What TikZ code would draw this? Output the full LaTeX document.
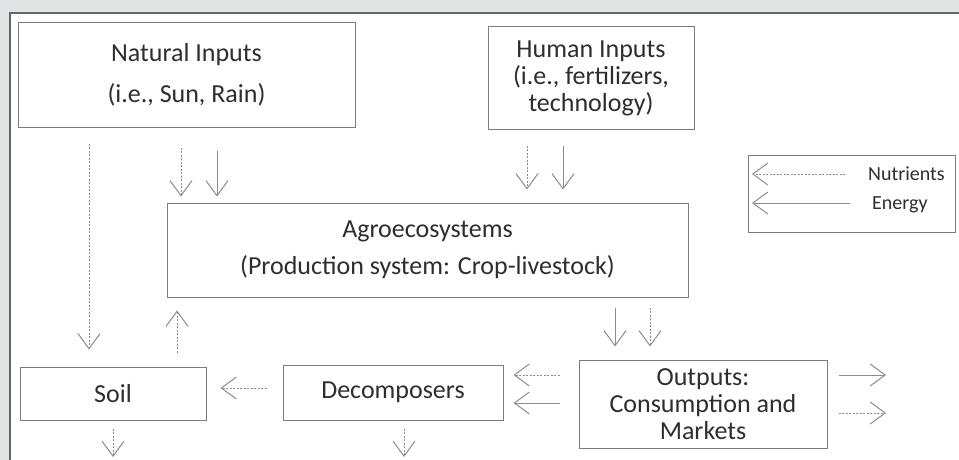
\documentclass[tikz,border=0pt]{standalone}
\usepackage{fontspec}
\setmainfont{Carlito}
\usetikzlibrary{arrows.meta,positioning}
\definecolor{linegray}{HTML}{8C8C8C}
\definecolor{boxgray}{HTML}{7C7C7C}
\definecolor{textgray}{HTML}{2E2E2E}
\definecolor{pagegray}{HTML}{E1E4E5}

\begin{document}
\begin{tikzpicture}[x=1pt,y=-1pt,
    box/.style={draw=boxgray,line width=1pt,align=center,inner sep=0pt,
        text=textgray,font=\fontsize{26}{27}\selectfont},
    keytext/.style={anchor=west,inner sep=0pt,text=textgray,
        font=\fontsize{20}{20}\selectfont},
    flow/.style={-{Straight Barb[length=15pt,width=22pt]},draw=linegray,
        line width=1pt},
    nutrient/.style={flow,dash pattern=on 2pt off 1.5pt},
    energy/.style={flow}
]
\fill[pagegray] (0,0) rectangle (959,460);
\useasboundingbox (0,0) rectangle (959,460);
\fill[white] (10,13) rectangle (959,460);
\draw[black!60,line width=1.5pt] (10,460) -- (10,13) -- (959,13);

\node[box,minimum width=337pt,minimum height=104pt] (nat) at (186.5,75)
    {Natural Inputs\\[14pt](i.e., Sun, Rain)};
\node[box,minimum width=206pt,minimum height=102pt] (human) at (591,78)
    {Human Inputs\\(i.e., fertilizers,\\technology)};
\node[box,minimum width=521pt,minimum height=94pt] (agro) at (427.5,250)
    {Agroecosystems\\[10pt](Production system: Crop-livestock)};
\node[box,minimum width=186pt,minimum height=53pt] (soil) at (113,393.5) {Soil};
\node[box,minimum width=220pt,minimum height=55pt] (decomp) at (393,392.5)
    {Decomposers};
\node[box,minimum width=248pt,minimum height=88pt] (outputs) at (703,404)
    {Outputs:\\Consumption and\\Markets};

\node[draw=boxgray,line width=1pt,minimum width=207pt,minimum height=77pt]
    (legend) at (851.5,193.5) {};
\node[keytext] (nutkey) at (868,174) {Nutrients};
\node[keytext] (energykey) at (872,205) {Energy};
\coordinate (nutend) at (752,174);
\coordinate (energyend) at (752,203);
\draw[nutrient,shorten <=23pt] (nutkey.west) -- (nutend);
\draw[energy,shorten <=22pt] (energykey.west |- energyend) -- (energyend);

\draw[nutrient,shorten <=16pt,shorten >=17pt] (nat.south -| 89,0) -- (soil.north -| 89,0);
\draw[nutrient,shorten <=20pt,shorten >=6pt] (nat.south -| 181,0) -- (agro.north -| 181,0);
\draw[energy,shorten <=23pt,shorten >=6pt] (nat.south -| 217,0) -- (agro.north -| 217,0);
\draw[nutrient,shorten <=16pt,shorten >=13pt] (human.south -| 527,0) -- (agro.north -| 527,0);
\draw[energy,shorten <=16pt,shorten >=13pt] (human.south -| 563,0) -- (agro.north -| 563,0);
\draw[energy,shorten <=10pt,shorten >=13pt] (agro.south -| 615,0) -- (outputs.north -| 615,0);
\draw[nutrient,shorten <=10pt,shorten >=13pt] (agro.south -| 650,0) -- (outputs.north -| 650,0);
\draw[nutrient,shorten <=14pt,shorten >=13pt] (soil.north -| 177,0) -- (agro.south -| 177,0);
\draw[nutrient,shorten <=16pt,shorten >=14pt] (decomp.west |- 0,388) -- (soil.east |- 0,388);
\draw[nutrient,shorten <=19pt,shorten >=10pt] (outputs.west |- 0,375) -- (decomp.east |- 0,375);
\draw[energy,shorten <=19pt,shorten >=10pt] (outputs.west |- 0,403) -- (decomp.east |- 0,403);

\coordinate (market1) at (886,375);
\coordinate (market2) at (886,413);
\draw[energy,shorten <=11pt] (outputs.east |- market1) -- (market1);
\draw[nutrient,shorten <=11pt] (outputs.east |- market2) -- (market2);

\coordinate (soilsink) at (113,457);
\coordinate (decompsink) at (404,457);
\draw[nutrient,shorten <=8pt] (soil.south -| soilsink) -- (soilsink);
\draw[nutrient,shorten <=8pt] (decomp.south -| decompsink) -- (decompsink);
\end{tikzpicture}
\end{document}
